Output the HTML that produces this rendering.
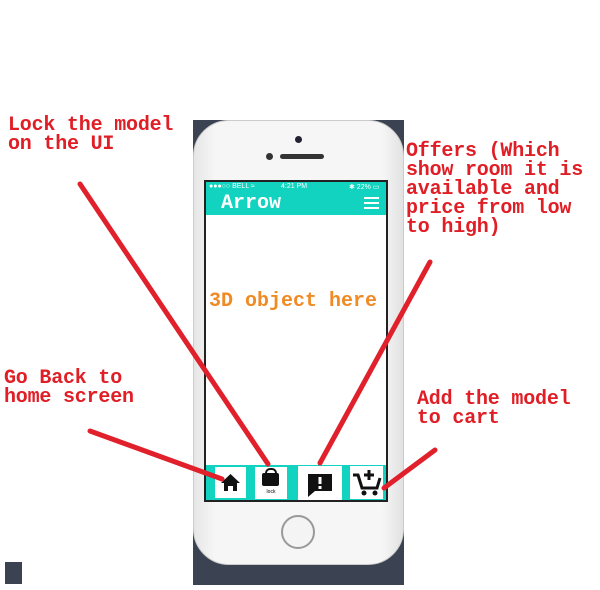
<!DOCTYPE html>
<html><head><style>
body{margin:0;width:600px;height:590px;background:#fff;position:relative;overflow:hidden;font-family:"Liberation Mono",monospace}
.t{position:absolute;color:#e01e26;font-weight:bold;font-size:20px;line-height:19px;white-space:pre;letter-spacing:-0.2px}
.a{position:absolute}
</style></head><body>
<div class="a" style="left:193px;top:120px;width:211px;height:465px;background:#3b4252"></div>
<div class="a" style="left:193px;top:120px;width:211px;height:445px;background:linear-gradient(90deg,#e6e6e6,#f6f6f6 10%,#f6f6f6 90%,#e2e2e2);border-radius:36px;border:1px solid #ccc;box-sizing:border-box"></div>
<div class="a" style="left:295px;top:136px;width:7px;height:7px;border-radius:50%;background:#223"></div>
<div class="a" style="left:266px;top:153px;width:7px;height:7px;border-radius:50%;background:#333"></div>
<div class="a" style="left:280px;top:154px;width:44px;height:5px;border-radius:3px;background:#333"></div>
<div class="a" style="left:204px;top:180px;width:184px;height:322px;background:#222"></div>
<div class="a" style="left:206px;top:182px;width:180px;height:318px;background:#fff"></div>
<div class="a" style="left:206px;top:182px;width:180px;height:33px;background:#12d3bf"></div>
<div class="a" style="left:209px;top:183px;font-family:'Liberation Sans',sans-serif;font-size:7px;color:#fff;width:175px">●●●○○ BELL ≈<span style="position:absolute;left:72px">4:21 PM</span><span style="position:absolute;left:140px">✱ 22% ▭</span></div>
<div class="a" style="left:221px;top:192px;color:#fff;font-weight:bold;font-size:20px">Arrow</div>
<div class="a" style="left:364px;top:197px;width:15px;height:2px;background:#fff;box-shadow:0 5px 0 #fff,0 10px 0 #fff"></div>
<div class="a" style="left:209px;top:290px;color:#f08a24;font-weight:bold;font-size:20px;white-space:pre">3D object here</div>
<div class="a" style="left:206px;top:465px;width:180px;height:35px;background:#12d3bf"></div>
<div class="a" style="left:215px;top:467px;width:31px;height:31px;background:#fff"><svg width="31" height="31"><path d="M6 16 L15.5 7 L25 16 L22 16 L22 24 L18 24 L18 19 L13 19 L13 24 L9 24 L9 16Z" fill="#111"/></svg></div>
<div class="a" style="left:255px;top:467px;width:32px;height:32px;background:#fff"><div style="position:absolute;left:7px;top:6px;width:17px;height:13px;background:#111;border-radius:2px"></div><div style="position:absolute;left:10px;top:1px;width:8px;height:8px;border:2px solid #111;border-radius:5px 5px 0 0;border-bottom:0"></div><div style="position:absolute;top:22px;width:32px;text-align:center;font-size:5px;font-family:'Liberation Sans'">lock</div></div>
<div class="a" style="left:298px;top:466px;width:44px;height:34px;background:#fff"><svg width="44" height="34"><path d="M10 8 H34 V25 H17 L10 31Z" fill="#111"/><rect x="20.5" y="11" width="3" height="7" fill="#fff"/><rect x="20.5" y="20" width="3" height="3" fill="#fff"/></svg></div>
<div class="a" style="left:350px;top:466px;width:33px;height:33px;background:#fff"><svg width="33" height="33"><path d="M3 9 H8 L12 22 H27 L30 12" fill="none" stroke="#111" stroke-width="3"/><circle cx="14" cy="27" r="2.5" fill="#111"/><circle cx="25" cy="27" r="2.5" fill="#111"/><path d="M19 4 V14 M14 9 H24" stroke="#111" stroke-width="3"/></svg></div>
<div class="a" style="left:281px;top:515px;width:30px;height:30px;border-radius:50%;border:2px solid #999;background:#f4f4f4"></div>
<div class="a" style="left:5px;top:562px;width:17px;height:22px;background:#3b4252"></div>
<svg class="a" style="left:0;top:0" width="600" height="590"><g stroke="#e0202a" stroke-width="5" stroke-linecap="round"><line x1="80" y1="184" x2="268" y2="464"/><line x1="430" y1="262" x2="320" y2="463"/><line x1="90" y1="431" x2="222" y2="479"/><line x1="435" y1="450" x2="384" y2="488"/></g></svg>
<div class="t" style="left:8px;top:116px">Lock the model
on the UI</div>
<div class="t" style="left:406px;top:142px">Offers (Which
show room it is
available and
price from low
to high)</div>
<div class="t" style="left:4px;top:369px">Go Back to
home screen</div>
<div class="t" style="left:417px;top:390px">Add the model
to cart</div>
</body></html>
